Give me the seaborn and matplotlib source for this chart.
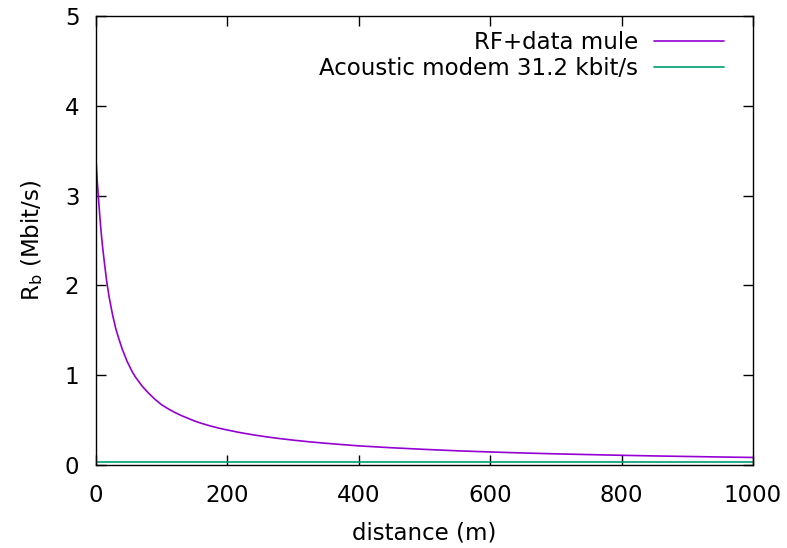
import numpy as np
import pandas as pd
import matplotlib
matplotlib.use("Agg")
import matplotlib.pyplot as plt
import seaborn as sns

# distance (m) and data rate (Mbit/s)
distance = [0, 2, 4, 6, 8, 10, 13, 16, 20, 25, 30, 35, 40, 47, 55, 60, 70, 80, 90,
            100, 110, 120, 130, 140, 150, 160, 173, 187, 203, 220, 240, 260, 280,
            300, 325, 350, 375, 400, 450, 500, 550, 600, 650, 700, 750, 800, 850,
            900, 950, 1000]
rf_mule = [3.40, 3.15, 2.95, 2.75, 2.58, 2.43, 2.24, 2.06, 1.87, 1.68, 1.52, 1.40,
           1.29, 1.16, 1.04, 0.98, 0.88, 0.80, 0.73, 0.67, 0.625, 0.585, 0.55,
           0.52, 0.49, 0.465, 0.437, 0.41, 0.385, 0.36, 0.335, 0.313, 0.294,
           0.277, 0.258, 0.242, 0.227, 0.213, 0.192, 0.174, 0.158, 0.145, 0.134,
           0.124, 0.116, 0.108, 0.101, 0.095, 0.089, 0.084]
acoustic_distance = [0, 1000]
acoustic_rate = [0.0312, 0.0312]

series_names = ["RF+data mule", "Acoustic modem 31.2 kbit/s"]
colors = ["#9400d3", "#009e73"]

x_ticks = [0, 200, 400, 600, 800, 1000]
y_ticks = [0, 1, 2, 3, 4, 5]

df = pd.concat([
    pd.DataFrame({"distance": distance, "rate": rf_mule, "series": series_names[0]}),
    pd.DataFrame({"distance": acoustic_distance, "rate": acoustic_rate, "series": series_names[1]}),
])

sns.set_style("ticks")
plt.rcParams["font.family"] = ["DejaVu Sans"]
plt.rcParams["text.color"] = "black"
plt.rcParams["axes.labelcolor"] = "black"

FS = 16.5
fig = plt.figure(figsize=(7.87, 5.48), dpi=100)
ax = fig.add_axes([96 / 787, 1 - 465 / 548, (753 - 96) / 787, (465 - 16) / 548])

sns.lineplot(data=df, x="distance", y="rate", hue="series",
             palette=dict(zip(series_names, colors)), linewidth=1.2,
             ax=ax, legend=True)

ax.set_xlim(0, 1000)
ax.set_ylim(0, 5)
ax.set_xticks(x_ticks)
ax.set_yticks(y_ticks)
ax.tick_params(direction="in", length=7.5, width=1, labelsize=FS,
               top=True, right=True, colors="black")
ax.tick_params(axis="x", pad=14)
ax.tick_params(axis="y", pad=12)
for s in ax.spines.values():
    s.set_linewidth(1.0)
    s.set_color("black")

ax.set_xlabel("distance (m)", fontsize=FS, labelpad=10, color="black")
ax.set_ylabel("R$_\\mathrm{b}$ (Mbit/s)", fontsize=FS, labelpad=14, color="black")

leg = ax.legend(loc="upper right", frameon=False, markerfirst=False,
                fontsize=FS, handlelength=3.05, handletextpad=0.7,
                labelspacing=0.17, borderaxespad=0.0,
                bbox_to_anchor=(0.9695, 0.988))
for t in leg.get_texts():
    t.set_ha("right")
    t.set_color("black")

fig.savefig("out.png", dpi=100)
